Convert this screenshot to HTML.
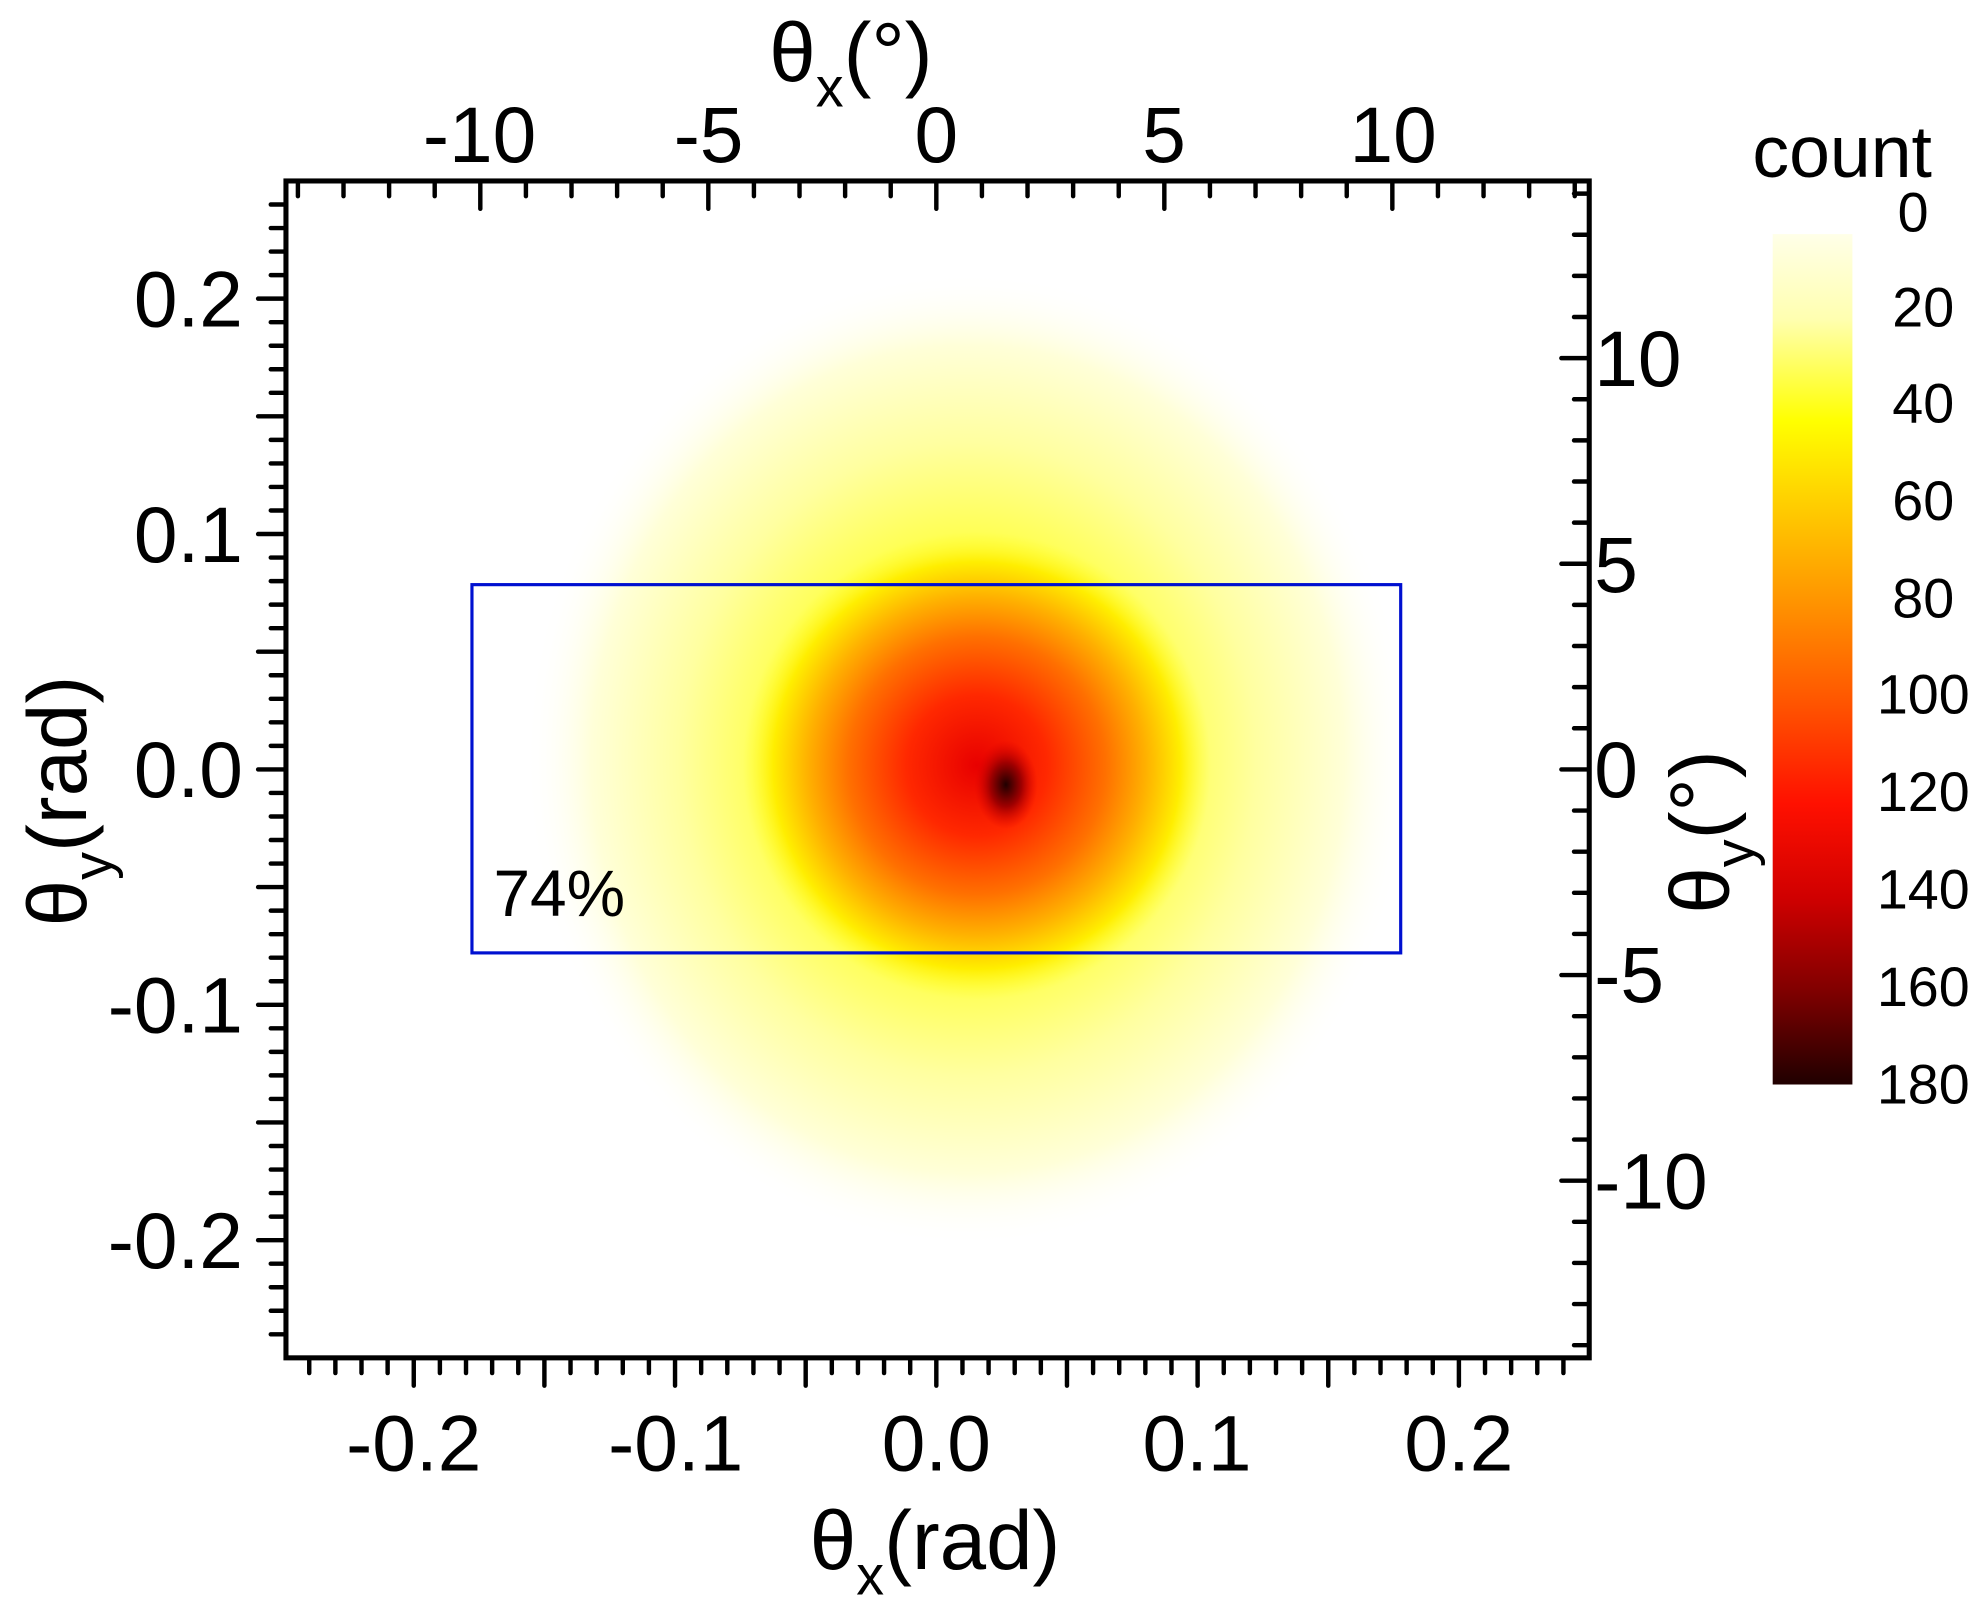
<!DOCTYPE html>
<html><head><meta charset="utf-8"><style>html,body{margin:0;padding:0;background:#fff}svg{display:block}</style></head>
<body>
<svg id="s" width="1984" height="1616" viewBox="0 0 1568 1277" preserveAspectRatio="none" xmlns="http://www.w3.org/2000/svg" font-family="Liberation Sans, Arial, sans-serif">
<defs>
<radialGradient id="g1" cx="0.5" cy="0.5" r="0.5">
<stop offset="0" stop-color="#ffff30"/>
<stop offset="0.45" stop-color="#ffff50"/>
<stop offset="0.65" stop-color="#ffffa0"/>
<stop offset="0.85" stop-color="#ffffd8"/>
<stop offset="1" stop-color="#ffffff" stop-opacity="0"/>
</radialGradient>
<radialGradient id="g2" cx="0.5" cy="0.5" r="0.5">
<stop offset="0" stop-color="#e80000"/>
<stop offset="0.3" stop-color="#ff2800"/>
<stop offset="0.55" stop-color="#ff7000"/>
<stop offset="0.72" stop-color="#ffb000"/>
<stop offset="0.87" stop-color="#ffee00"/>
<stop offset="1" stop-color="#ffff30" stop-opacity="0"/>
</radialGradient>
<radialGradient id="g3" cx="0.5" cy="0.5" r="0.5">
<stop offset="0" stop-color="#200000"/>
<stop offset="0.5" stop-color="#a00000"/>
<stop offset="1" stop-color="#e00000" stop-opacity="0"/>
</radialGradient>
<linearGradient id="cb" x1="0" y1="0" x2="0" y2="1">
<stop offset="0" stop-color="#ffffe8"/>
<stop offset="0.1" stop-color="#ffffb0"/>
<stop offset="0.22" stop-color="#ffff00"/>
<stop offset="0.33" stop-color="#ffc800"/>
<stop offset="0.44" stop-color="#ff9000"/>
<stop offset="0.56" stop-color="#ff5000"/>
<stop offset="0.67" stop-color="#ff1000"/>
<stop offset="0.78" stop-color="#d00000"/>
<stop offset="0.89" stop-color="#800000"/>
<stop offset="1" stop-color="#200000"/>
</linearGradient>
</defs>
<ellipse cx="765" cy="600" rx="350" ry="385" fill="url(#g1)"/>
<ellipse cx="772" cy="605" rx="185" ry="185" fill="url(#g2)"/>
<ellipse cx="795" cy="620" rx="25" ry="35" fill="url(#g3)"/>
<rect x="373" y="462" width="734" height="291" fill="none" stroke="#0010d0" stroke-width="2.5"/>
<text x="390" y="724" font-size="52">74%</text>
<rect x="226" y="143" width="1030" height="930" fill="none" stroke="#000" stroke-width="4"/>
<g id="ticks" stroke="#000" stroke-width="3.5" stroke-linecap="round"></g>
<g font-size="62" fill="#000">
<g text-anchor="middle">
<text x="327" y="1162">-0.2</text><text x="534" y="1162">-0.1</text><text x="740" y="1162">0.0</text><text x="946" y="1162">0.1</text><text x="1153" y="1162">0.2</text>
<text x="379" y="128">-10</text><text x="560" y="128">-5</text><text x="740" y="128">0</text><text x="920" y="128">5</text><text x="1101" y="128">10</text>
</g>
<g text-anchor="end">
<text x="192" y="258">0.2</text><text x="192" y="444">0.1</text><text x="192" y="630">0.0</text><text x="192" y="816">-0.1</text><text x="192" y="1002">-0.2</text>
</g>
<g text-anchor="start">
<text x="1260" y="305">10</text><text x="1260" y="468">5</text><text x="1260" y="630">0</text><text x="1260" y="792">-5</text><text x="1260" y="955">-10</text>
</g>
</g>
<text x="640" y="1240" font-size="66">θ<tspan font-size="44" dy="20">x</tspan><tspan dy="-20">(rad)</tspan></text>
<text x="608" y="64" font-size="66">θ<tspan font-size="44" dy="20">x</tspan><tspan dy="-20">(°)</tspan></text>
<text transform="translate(68 732) rotate(-90)" font-size="66">θ<tspan font-size="44" dy="20">y</tspan><tspan dy="-20">(rad)</tspan></text>
<text transform="translate(1366 722) rotate(-90)" font-size="66">θ<tspan font-size="44" dy="20">y</tspan><tspan dy="-20">(°)</tspan></text>
<text x="1385" y="140" font-size="58">count</text>
<rect x="1401" y="185" width="63" height="672" fill="url(#cb)"/>
<g font-size="44" text-anchor="middle">
<text x="1512" y="183">0</text><text x="1520" y="258">20</text><text x="1520" y="334">40</text><text x="1520" y="411">60</text><text x="1520" y="488">80</text><text x="1520" y="564">100</text><text x="1520" y="641">120</text><text x="1520" y="718">140</text><text x="1520" y="795">160</text><text x="1520" y="872">180</text>
</g>
</svg>
<script>
var g=document.getElementById('ticks'),h='';
function L(a,b,c,d){h+='<line x1="'+a+'" y1="'+b+'" x2="'+c+'" y2="'+d+'"/>';}
for(var i=-30;i<=30;i++){var x=740+i*20.65;if(x<228||x>1254)continue;var M=(i%5==0);L(x,1073,x,1073+(M?22:12));}
for(var i=-30;i<=30;i++){var y=608-i*18.6;if(y<145||y>1071)continue;var M=(i%5==0);L(226,y,226-(M?22:12),y);}
for(var i=-20;i<=20;i++){var x=740+i*36.04;if(x<228||x>1254)continue;var M=(i%5==0);L(x,143,x,143+(M?22:12));}
for(var i=-20;i<=20;i++){var y=608-i*32.5;if(y<145||y>1071)continue;var M=(i%5==0);L(1256,y,1256-(M?22:12),y);}
g.innerHTML=h;
</script>
</body></html>
